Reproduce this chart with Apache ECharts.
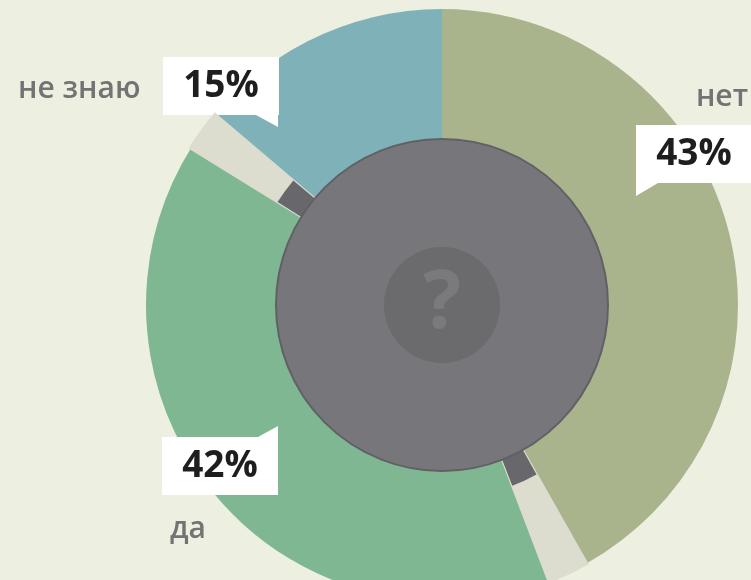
<!DOCTYPE html>
<html>
<head>
<meta charset="utf-8">
<script src="https://cdn.jsdelivr.net/npm/echarts@6/dist/echarts.min.js"></script>
<style>
html,body{margin:0;padding:0;background:#edf0e1;}
#chart{width:751px;height:580px;}
</style>
</head>
<body>
<div id="chart"></div>
<script>
// ---- data ----
const categories = ['нет', 'да', 'не знаю'];
const values = [43, 42, 15];
const valueLabels = ['43%', '42%', '15%'];

// ---- styles ----
const sliceColors = ['#a9b48c', '#7fb792', '#7fb2b8'];
const bg = '#edf0e1';
const gapColor = '#dcddcf';
const diskColor = '#77777b';
const tabColor = '#68686c';
const CX = 442, CY = 305, R = 296;
const gapPct = 2.4;   // visual gap width (in % of circle)
const tabPct = 2.2;
const T = 'rgba(0,0,0,0)';

// overlay items derived from the slice values (boundaries adjacent to "да")
function boundaryItems(w, color) {
  return [
    { value: values[0] - w / 2, itemStyle: { color: T } },
    { value: w, itemStyle: { color: color } },
    { value: values[1] - w, itemStyle: { color: T } },
    { value: w, itemStyle: { color: color } },
    { value: values[2] - w / 2, itemStyle: { color: T } }
  ];
}

const labelPos = [
  { x: 752, y: 85, align: 'right', verticalAlign: 'top' },  // нет
  { x: 162, y: 437, align: 'left', verticalAlign: 'top' },  // да
  { x: 18, y: 57, align: 'left', verticalAlign: 'top' }     // не знаю
];
const formats = [
  '{nr|' + categories[0] + '}\n{v|' + valueLabels[0] + '}',
  '{v|' + valueLabels[1] + '}\n{nl|' + categories[1] + '}',
  '{nz|' + categories[2] + '}{v|' + valueLabels[2] + '}'
];

const chart = echarts.init(document.getElementById('chart'), null, { renderer: 'canvas' });
const common = { type: 'pie', center: [CX, CY], startAngle: 90, clockwise: true, silent: true,
  animation: false, avoidLabelOverlap: false, emphasis: { disabled: true }, labelLine: { show: false } };
const nameStyle = { fontFamily: 'Open Sans', fontWeight: 600, fontSize: 30, color: '#737373' };

chart.setOption({
  backgroundColor: bg,
  series: [
    Object.assign({}, common, {
      name: 'main', z: 2, radius: [0, R],
      data: categories.map((c, i) => ({ name: c, value: values[i], itemStyle: { color: sliceColors[i] } })),
      label: {
        show: true, position: 'outside',
        formatter: p => formats[p.dataIndex],
        rich: {
          v: { fontFamily: 'Open Sans', fontWeight: 'bold', fontSize: 37, color: '#1e1e1e',
               backgroundColor: '#ffffff', width: 92, height: 58, lineHeight: 58, padding: [0, 12], align: 'center' },
          nr: Object.assign({ lineHeight: 40, padding: [0, 4, 16, 0], align: 'right' }, nameStyle),
          nl: Object.assign({ lineHeight: 68, padding: [0, 0, 0, 8] }, nameStyle),
          nz: Object.assign({ lineHeight: 58, width: 145, padding: [6, 0, 0, 0] }, nameStyle)
        }
      },
      labelLayout: p => labelPos[p.dataIndex]
    }),
    Object.assign({}, common, { name: 'gaps', z: 3, radius: [0, R + 2], label: { show: false },
      data: boundaryItems(gapPct, gapColor) }),
    Object.assign({}, common, { name: 'tabs', z: 4, radius: [150, 194], label: { show: false },
      data: boundaryItems(tabPct, tabColor) }),
    Object.assign({}, common, { name: 'disk', z: 5, radius: [0, 166], label: { show: false },
      data: [{ value: 1, itemStyle: { color: diskColor, borderColor: '#616165', borderWidth: 2 } }] }),
    Object.assign({}, common, { name: 'inner', z: 6, radius: [0, 58],
      label: { show: true, position: 'center', formatter: '?', fontFamily: 'Open Sans', fontWeight: 'bold',
               fontSize: 80, color: '#7a7a7e' },
      data: [{ value: 1, itemStyle: { color: '#6b6b6e' } }] })
  ],
  graphic: [
    { type: 'polygon', z: 100, shape: { points: [[256, 115], [278, 115], [278, 127]] }, style: { fill: '#ffffff' } },
    { type: 'polygon', z: 100, shape: { points: [[636, 183], [658, 183], [636, 196]] }, style: { fill: '#ffffff' } },
    { type: 'polygon', z: 100, shape: { points: [[258, 437], [278, 437], [278, 426]] }, style: { fill: '#ffffff' } }
  ]
});
</script>
</body>
</html>
